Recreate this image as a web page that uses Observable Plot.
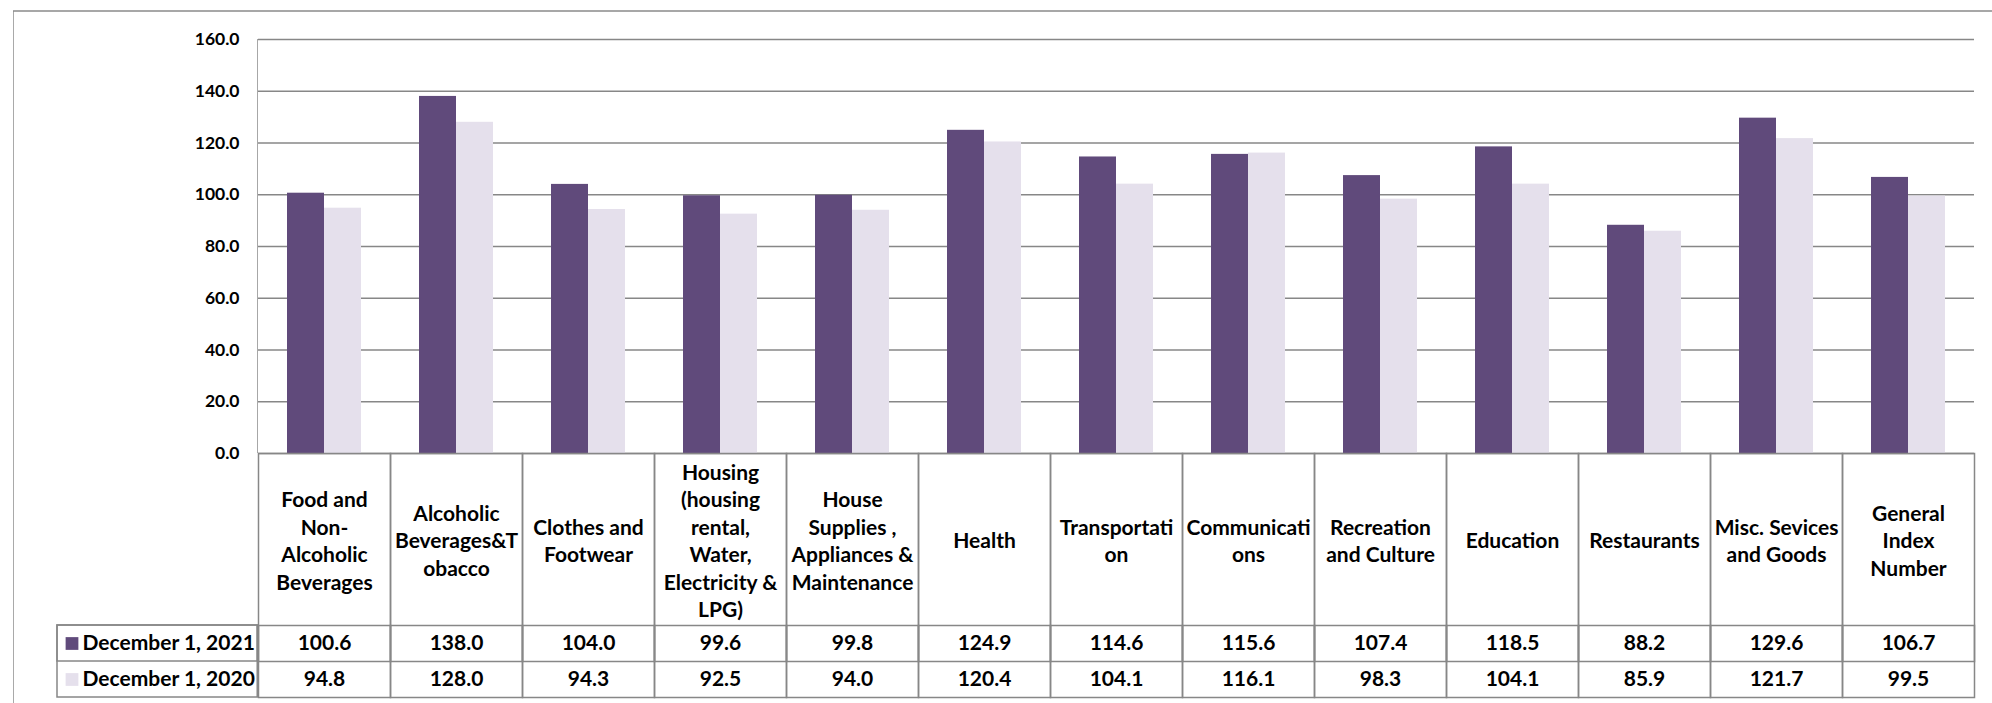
<!DOCTYPE html>
<html><head><meta charset="utf-8">
<script src="https://cdn.jsdelivr.net/npm/d3@7"></script>
<script src="https://cdn.jsdelivr.net/npm/@observablehq/plot@0.6"></script>
<style>
html,body{margin:0;padding:0;background:#fff;overflow:hidden;}
#chart{width:1992px;height:703px;overflow:hidden;}
</style></head><body>
<div id="chart"></div>
<script>
// ---- data ----
const categories = [
  "Food and Non-Alcoholic Beverages",
  "Alcoholic Beverages&Tobacco",
  "Clothes and Footwear",
  "Housing (housing rental, Water, Electricity & LPG)",
  "House Supplies , Appliances & Maintenance",
  "Health",
  "Transportation",
  "Communications",
  "Recreation and Culture",
  "Education",
  "Restaurants",
  "Misc. Sevices and Goods",
  "General Index Number"
];
const tickLabels = [
  "Food and\nNon-\nAlcoholic\nBeverages",
  "Alcoholic\nBeverages&T\nobacco",
  "Clothes and\nFootwear",
  "Housing\n(housing\nrental,\nWater,\nElectricity &\nLPG)",
  "House\nSupplies ,\nAppliances &\nMaintenance",
  "Health",
  "Transportati\non",
  "Communicati\nons",
  "Recreation\nand Culture",
  "Education",
  "Restaurants",
  "Misc. Sevices\nand Goods",
  "General\nIndex\nNumber"
];
const series = ["December 1, 2021", "December 1, 2020"];
const values2021 = [100.6, 138.0, 104.0, 99.6, 99.8, 124.9, 114.6, 115.6, 107.4, 118.5, 88.2, 129.6, 106.7];
const values2020 = [94.8, 128.0, 94.3, 92.5, 94.0, 120.4, 104.1, 116.1, 98.3, 104.1, 85.9, 121.7, 99.5];
const yTicks = [0, 20, 40, 60, 80, 100, 120, 140, 160];
const seriesColors = ["#604A7B", "#E5E0EC"];

// ---- layout ----
const W = 1992, H = 703;
const mL = 253, mR = 13, mT = 39, mB = 250;
const plotH = H - mT - mB;
const headerH = 172, rowH = 36, tableH = headerH + 2 * rowH;
const legendW = 201;
const facetW = (W - mL - mR) / categories.length;
const borderX = 8, borderY = 11;
const LINE = "#878787";
const FONT_TABLE = 21, FONT_AXIS = 17.5;

const rows = categories.map((c, i) => ({cat: c, label: tickLabels[i], a: values2021[i], b: values2020[i]}));
const bars = [];
categories.forEach((c, i) => {
  bars.push({cat: c, series: series[0], value: values2021[i]});
  bars.push({cat: c, series: series[1], value: values2020[i]});
});
const legendRows = series.map((s, i) => ({series: s, row: i}));
const first = [categories[0]];

const marks = [
  Plot.gridY(yTicks, {stroke: LINE, strokeOpacity: 1, strokeWidth: 1.4}),
  Plot.barY(bars, {fx: "cat", x: "series", y: "value", fill: "series"}),
  Plot.axisY(yTicks, {tickSize: 0, tickPadding: 19, tickFormat: d3.format(".1f"), fontSize: FONT_AXIS, fontWeight: "bold", label: null}),
  // outer chart-area border (left and top edges)
  Plot.rect(first, {fx: d => d, insetLeft: -(mL - borderX), insetRight: facetW + (mL - borderX) - 1.5, insetTop: -(mT - borderY), insetBottom: -(mB + 20), fill: "#8a8a8a"}),
  Plot.rect(first, {fx: d => d, insetLeft: -(mL - borderX), insetRight: -(W - mL), insetTop: -(mT - borderY) - 0.75, insetBottom: plotH + (mT - borderY) - 0.75, fill: "#8a8a8a"}),
  // y-axis line
  Plot.rect(first, {fx: d => d, insetLeft: -0.75, insetRight: facetW - 0.75, fill: LINE}),
  // table cells
  Plot.frame({stroke: LINE, strokeWidth: 1.5, insetTop: plotH, insetBottom: -tableH}),
  Plot.frame({stroke: LINE, strokeWidth: 1.5, insetTop: plotH + headerH, insetBottom: -(headerH + rowH)}),
  Plot.rect(first, {fx: d => d, insetLeft: -legendW, insetRight: facetW, insetTop: plotH + headerH, insetBottom: -tableH, fill: "none", stroke: LINE, strokeWidth: 1.5}),
  Plot.rect(first, {fx: d => d, insetLeft: -legendW, insetRight: facetW, insetTop: plotH + headerH, insetBottom: -(headerH + rowH), fill: "none", stroke: LINE, strokeWidth: 1.5}),
  // header labels
  Plot.text(rows, {fx: "cat", text: "label", frameAnchor: "bottom", lineAnchor: "middle", textAnchor: "middle", dy: headerH / 2, fontSize: FONT_TABLE, fontWeight: "bold", lineHeight: 1.31, fill: "#000"}),
  // values
  Plot.text(rows, {fx: "cat", text: d => d.a.toFixed(1), frameAnchor: "bottom", lineAnchor: "middle", textAnchor: "middle", dy: headerH + rowH / 2, fontSize: FONT_TABLE, fontWeight: "bold", fill: "#000"}),
  Plot.text(rows, {fx: "cat", text: d => d.b.toFixed(1), frameAnchor: "bottom", lineAnchor: "middle", textAnchor: "middle", dy: headerH + rowH * 1.5, fontSize: FONT_TABLE, fontWeight: "bold", fill: "#000"}),
  // legend keys
  Plot.dot(legendRows.slice(0, 1), {fx: () => categories[0], frameAnchor: "bottom-left", dx: -186.5, dy: headerH + rowH / 2, symbol: "square", r: 7.2, fill: "series", stroke: "none"}),
  Plot.dot(legendRows.slice(1), {fx: () => categories[0], frameAnchor: "bottom-left", dx: -186.5, dy: headerH + rowH * 1.5, symbol: "square", r: 7.2, fill: "series", stroke: "none"}),
  Plot.text(legendRows.slice(0, 1), {fx: () => categories[0], text: "series", frameAnchor: "bottom-left", textAnchor: "start", lineAnchor: "middle", dx: -176, dy: headerH + rowH / 2, fontSize: FONT_TABLE, fontWeight: "bold", fill: "#000"}),
  Plot.text(legendRows.slice(1), {fx: () => categories[0], text: "series", frameAnchor: "bottom-left", textAnchor: "start", lineAnchor: "middle", dx: -176, dy: headerH + rowH * 1.5, fontSize: FONT_TABLE, fontWeight: "bold", fill: "#000"})
];

const chart = Plot.plot({
  width: W, height: H,
  marginLeft: mL, marginRight: mR, marginTop: mT, marginBottom: mB,
  style: {fontFamily: "Lato, sans-serif", background: "white", color: "#000", overflow: "hidden"},
  fx: {domain: categories, padding: 0, axis: null, label: null},
  x: {domain: series, paddingInner: 0, paddingOuter: 0.75, axis: null, label: null},
  y: {domain: [0, 160], label: null},
  color: {domain: series, range: seriesColors},
  marks
});
document.getElementById("chart").appendChild(chart);
</script>
</body></html>
